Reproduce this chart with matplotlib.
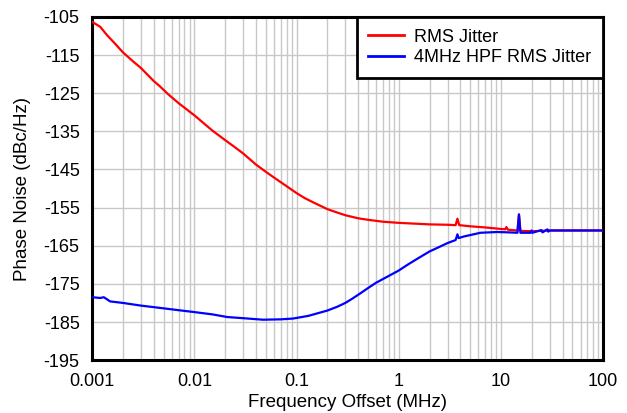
import matplotlib
matplotlib.use("Agg")
import matplotlib.pyplot as plt
from matplotlib.ticker import LogLocator, FixedLocator, NullFormatter

plt.rcParams['font.family'] = ['Liberation Sans', 'DejaVu Sans']
plt.rcParams['axes.unicode_minus'] = False

# frequency offset (MHz) / phase noise (dBc/Hz)
rms_freq = [0.001, 0.0012, 0.0014, 0.0017, 0.002, 0.0025, 0.003, 0.004, 0.0046,
            0.0055, 0.007, 0.01, 0.015, 0.02, 0.025, 0.03, 0.04, 0.05, 0.06, 0.08,
            0.1, 0.12, 0.15, 0.2, 0.25, 0.3, 0.4, 0.5, 0.7, 1.0,
            2.0, 3.0, 3.6, 3.75, 3.9, 5.0, 7.0, 10.0, 11.0, 11.3, 11.7, 14.5,
            15.0, 15.5, 20.0, 30.0, 100.0]
rms_pn = [-106.3, -107.6, -109.8, -112.2, -114.3, -116.6, -118.4, -121.8, -123.2,
          -125.2, -127.6, -130.8, -134.8, -137.3, -139.2, -140.8, -143.7, -145.6,
          -147.1, -149.4, -151.2, -152.5, -153.8, -155.4, -156.3, -157.0, -157.8,
          -158.2, -158.7, -159.0, -159.4, -159.5, -159.6, -157.9, -159.6, -159.9,
          -160.2, -160.6, -160.7, -160.1, -160.8, -161.0, -156.8, -161.1, -161.2,
          -161.0, -161.0]

hpf_freq = [0.001, 0.0012, 0.0013, 0.0015, 0.002, 0.003, 0.0046, 0.007, 0.01,
            0.015, 0.021, 0.03, 0.047, 0.07, 0.092, 0.13, 0.2, 0.25, 0.3, 0.35,
            0.42, 0.5, 0.6, 0.8, 1.0, 1.2, 1.5, 2.0, 2.5, 3.0, 3.6, 3.75, 3.85,
            4.3, 6.3, 9.2, 12.0, 14.5, 15.0, 15.5, 19.5, 19.9, 20.3, 24.8, 25.5,
            28.5, 29.0, 30.0, 100.0]
hpf_pn = [-178.5, -178.7, -178.5, -179.6, -180.0, -180.7, -181.3, -181.9, -182.4,
          -183.0, -183.7, -184.0, -184.4, -184.3, -184.1, -183.4, -182.0, -181.0,
          -180.0, -178.9, -177.5, -176.1, -174.7, -172.9, -171.5, -170.1, -168.5,
          -166.5, -165.3, -164.3, -163.5, -162.0, -163.0, -162.6, -161.6, -161.4,
          -161.5, -161.6, -156.8, -161.6, -161.6, -161.0, -161.6, -160.9, -161.5,
          -160.7, -161.3, -161.0, -161.0]

x_ticks = [0.001, 0.01, 0.1, 1, 10, 100]
x_labels = ['0.001', '0.01', '0.1', '1', '10', '100']
y_ticks = list(range(-195, -104, 10))

fig = plt.figure(figsize=(6.27, 4.13), dpi=100)
ax = fig.add_axes([0.147, 0.128, 0.815, 0.831])

ax.plot(rms_freq, rms_pn, color='#ff0000', lw=1.6, label='RMS Jitter', zorder=3)
ax.plot(hpf_freq, hpf_pn, color='#0000ff', lw=1.6, label='4MHz HPF RMS Jitter', zorder=4)

ax.set_xscale('log')
ax.set_xlim(0.001, 100)
ax.set_ylim(-195, -105)
ax.set_xticks(x_ticks)
ax.set_xticklabels(x_labels)
ax.xaxis.set_minor_locator(LogLocator(base=10, subs=range(2, 10)))
ax.xaxis.set_minor_formatter(NullFormatter())
ax.yaxis.set_major_locator(FixedLocator(y_ticks))

ax.grid(True, which='major', color='#c8c8c8', lw=1.0)
ax.grid(True, which='minor', axis='x', color='#c8c8c8', lw=1.0)
ax.set_axisbelow(True)

ax.tick_params(which='both', length=0, labelsize=13)
ax.tick_params(axis='x', pad=9)
ax.tick_params(axis='y', pad=9)
for s in ax.spines.values():
    s.set_linewidth(2.2)
    s.set_color('black')

ax.set_xlabel('Frequency Offset (MHz)', fontsize=13.5, labelpad=3)
ax.set_ylabel('Phase Noise (dBc/Hz)', fontsize=13.5, labelpad=9)

leg = ax.legend(loc='upper right', fontsize=13, fancybox=False, framealpha=1,
                edgecolor='black', borderaxespad=0, handlelength=2.0,
                handletextpad=0.55, labelspacing=0.2, borderpad=0.65)
leg.get_frame().set_linewidth(2.0)
for line in leg.get_lines():
    line.set_linewidth(2.0)

fig.savefig('out.png', dpi=100)
